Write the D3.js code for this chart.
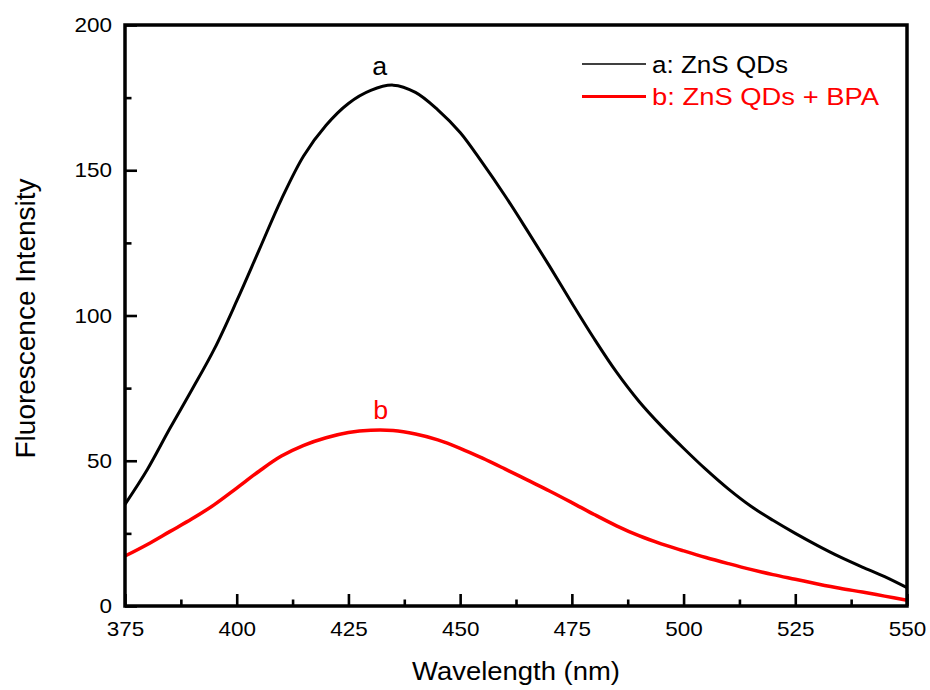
<!DOCTYPE html>
<html>
<head>
<meta charset="utf-8">
<script src="https://cdn.jsdelivr.net/npm/d3@7"></script>
<style>
  html, body { margin: 0; padding: 0; background: #fff; }
  svg { display: block; }
  text { font-family: "Liberation Sans", Arial, sans-serif; }
</style>
</head>
<body>
<svg id="chart" width="930" height="690"></svg>
<script>
// ---- data ----
const wavelengths = [375,380,385,390,395,400,405,410,415,420,425,430,435,440,445,450,455,460,465,470,475,480,485,490,495,500,505,510,515,520,525,530,535,540,545,550];
const seriesA = [35,47,61,74.5,88.5,105,122.5,140,155,165.5,173,177.5,179.3,176.8,170.8,163,152.5,141.3,129.3,117,104.3,92,80.5,70.5,62,54.3,47,40.3,34.4,29.5,25,20.8,16.9,13.4,10.1,6.3];
const seriesB = [17.2,21.2,25.6,30,34.9,40.6,46.4,51.6,55.3,57.9,59.7,60.5,60.4,59.2,57.2,54.3,50.9,47.2,43.4,39.6,35.6,31.5,27.6,24.2,21.4,19,16.7,14.6,12.6,10.8,9.2,7.6,6.1,4.8,3.4,2];
const seriesNames = ["a: ZnS QDs", "b: ZnS QDs + BPA"];
const curveLabels = ["a", "b"];
const xMajorTicks = [375,400,425,450,475,500,525,550];
const xMinorTicks = [387.5,412.5,437.5,462.5,487.5,512.5,537.5];
const yMajorTicks = [0,50,100,150,200];
const yMinorTicks = [25,75,125,175];
const xTitle = "Wavelength (nm)";
const yTitle = "Fluorescence Intensity";

// ---- layout ----
const L = 125, R = 907, T = 25, B = 606;
const svg = d3.select("#chart");
const x = d3.scaleLinear().domain([375, 550]).range([L, R]);
const y = d3.scaleLinear().domain([0, 200]).range([B, T]);
const STRETCH = 1.07;
function stretch(sel, f) {
  sel.each(function() {
    const w = this.getComputedTextLength();
    d3.select(this).attr("textLength", w * f).attr("lengthAdjust", "spacingAndGlyphs");
  });
}

// ---- axes ----
function styleAxis(g) {
  g.select(".domain").remove();
  g.selectAll(".tick line").attr("stroke", "#000").attr("stroke-width", 2.6);
  g.selectAll(".tick text").attr("fill", "#000").style("font-size", "21px")
    .style("font-family", '"Liberation Sans", Arial, sans-serif');
}
const gxMinor = svg.append("g").attr("transform", `translate(0,${B})`)
  .call(d3.axisBottom(x).tickValues(xMinorTicks).tickSize(-6.5).tickFormat(""));
styleAxis(gxMinor);
const gx = svg.append("g").attr("transform", `translate(0,${B})`)
  .call(d3.axisBottom(x).tickValues(xMajorTicks).tickSize(-12).tickPadding(15).tickFormat(d3.format("d")));
styleAxis(gx);
stretch(gx.selectAll(".tick text"), STRETCH);

const gyMinor = svg.append("g").attr("transform", `translate(${L},0)`)
  .call(d3.axisLeft(y).tickValues(yMinorTicks).tickSize(-6.5).tickFormat(""));
styleAxis(gyMinor);
const gy = svg.append("g").attr("transform", `translate(${L},0)`)
  .call(d3.axisLeft(y).tickValues(yMajorTicks).tickSize(-12).tickPadding(13).tickFormat(d3.format("d")));
styleAxis(gy);
stretch(gy.selectAll(".tick text"), STRETCH);

// ---- curves ----
const line = d3.line().curve(d3.curveCatmullRom.alpha(0.5))
  .x((d, i) => x(wavelengths[i])).y(d => y(d));
svg.append("path").datum(seriesA).attr("d", line)
  .attr("fill", "none").attr("stroke", "#000").attr("stroke-width", 3).attr("stroke-linejoin", "round");
svg.append("path").datum(seriesB).attr("d", line)
  .attr("fill", "none").attr("stroke", "#ff0000").attr("stroke-width", 3.5).attr("stroke-linejoin", "round");

// ---- frame ----
svg.append("rect").attr("x", L).attr("y", T).attr("width", R - L).attr("height", B - T)
  .attr("fill", "none").attr("stroke", "#000").attr("stroke-width", 3.5);

// ---- curve labels ----
const la = svg.append("text").attr("x", x(432)).attr("y", 75).attr("text-anchor", "middle")
  .style("font-size", "25px").attr("fill", "#000").text(curveLabels[0]);
const lb = svg.append("text").attr("x", x(432.2)).attr("y", 419).attr("text-anchor", "middle")
  .style("font-size", "25px").attr("fill", "#ff0000").text(curveLabels[1]);
stretch(la, STRETCH); stretch(lb, STRETCH);

// ---- legend ----
const legendColors = ["#000", "#ff0000"];
const legendWidths = [1.6, 3.2];
const legendTextWidths = [136, 227];
seriesNames.forEach((name, i) => {
  const yy = 64 + i * 32.5;
  svg.append("line").attr("x1", 582).attr("x2", 646).attr("y1", yy).attr("y2", yy)
    .attr("stroke", legendColors[i]).attr("stroke-width", legendWidths[i]);
  svg.append("text").attr("x", 652).attr("y", yy + 8.5)
    .style("font-size", "24.5px").attr("fill", legendColors[i]).text(name)
    .attr("textLength", legendTextWidths[i]).attr("lengthAdjust", "spacingAndGlyphs");
});

// ---- axis titles ----
const xt = svg.append("text").attr("x", (L + R) / 2).attr("y", 680).attr("text-anchor", "middle")
  .style("font-size", "25px").attr("fill", "#000").text(xTitle);
xt.attr("textLength", 208).attr("lengthAdjust", "spacingAndGlyphs");
const yt = svg.append("text").attr("transform", `translate(35,${(T + B) / 2 + 3}) rotate(-90)`)
  .attr("text-anchor", "middle").style("font-size", "27px").attr("fill", "#000").text(yTitle);
yt.attr("textLength", 280).attr("lengthAdjust", "spacingAndGlyphs");
</script>
</body>
</html>
